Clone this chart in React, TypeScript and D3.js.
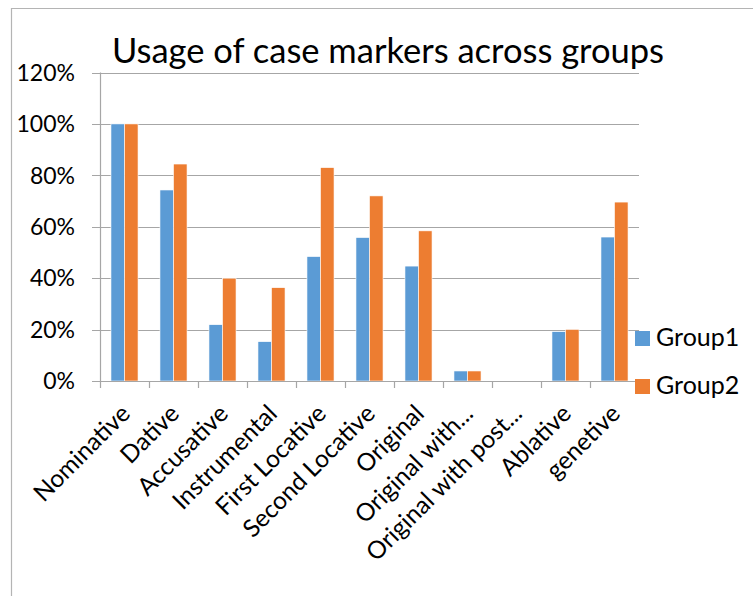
import React from "react";
import * as d3 from "d3";

const categories = [
  "Nominative",
  "Dative",
  "Accusative",
  "Instrumental",
  "First Locative",
  "Second Locative",
  "Original",
  "Original with...",
  "Original with post...",
  "Ablative",
  "genetive",
];
const group1 = [1.0, 0.743, 0.219, 0.153, 0.484, 0.558, 0.447, 0.039, 0, 0.192, 0.56];
const group2 = [1.0, 0.844, 0.4, 0.363, 0.83, 0.72, 0.584, 0.039, 0, 0.201, 0.696];
const seriesNames = ["Group1", "Group2"];
const yTicks = [0, 0.2, 0.4, 0.6, 0.8, 1.0, 1.2];

const COLORS = ["#5B9BD5", "#ED7D31"];
const FONT = "Lato, 'Open Sans', sans-serif";

export default function App() {
  const W = 753;
  const H = 596;
  const left = 100;
  const right = 639;
  const top = 72.5;
  const bottom = 381;

  const x = d3.scaleBand<string>().domain(categories).range([left, right]);
  const inner = d3
    .scaleBand<string>()
    .domain(seriesNames)
    .range([0, x.bandwidth()])
    .paddingInner(0)
    .paddingOuter(0.81);
  const y = d3.scaleLinear().domain([0, 1.2]).range([bottom, top]);
  const series = [group1, group2];
  const fmt = d3.format(".0%");

  return (
    <svg
      width={W}
      height={H}
      style={{ position: "absolute", left: 0, top: 0, background: "#fff" }}
      fontFamily={FONT}
    >
      <rect x={0} y={0} width={W} height={H} fill="#fff" />
      {/* outer frame */}
      <line x1={11} x2={W} y1={8.5} y2={8.5} stroke="#b4b4b4" strokeWidth={1.2} />
      <line x1={11.5} x2={11.5} y1={8} y2={H} stroke="#b4b4b4" strokeWidth={1.2} />

      {/* title */}
      <text x={388} y={63} textAnchor="middle" fontSize={34.5} fill="#000">
        Usage of case markers across groups
      </text>

      {/* gridlines + y ticks */}
      {yTicks.map((t) => (
        <g key={t}>
          <line
            x1={left - 8}
            x2={right}
            y1={Math.round(y(t)) + 0.5}
            y2={Math.round(y(t)) + 0.5}
            stroke="#a6a6a6"
            strokeWidth={1.2}
          />
          <text
            x={75}
            y={y(t)}
            dy="0.36em"
            textAnchor="end"
            fontSize={23}
            fill="#000"
          >
            {fmt(t)}
          </text>
        </g>
      ))}
      {/* y axis */}
      <line x1={left + 0.5} x2={left + 0.5} y1={top} y2={bottom} stroke="#a6a6a6" strokeWidth={1.2} />

      {/* bars */}
      {categories.map((c, i) => (
        <g key={c}>
          {series.map((s, k) => (
            <rect
              key={k}
              x={(x(c) as number) + (inner(seriesNames[k]) as number)}
              y={y(s[i])}
              width={inner.bandwidth()}
              height={bottom - y(s[i])}
              fill={COLORS[k]}
              stroke="#fff"
              strokeWidth={0.6}
            />
          ))}
        </g>
      ))}

      {/* x axis baseline and ticks */}
      <line x1={left - 8} x2={right} y1={bottom + 0.5} y2={bottom + 0.5} stroke="#a6a6a6" strokeWidth={1.2} />
      {[...categories.map((c) => x(c) as number), right].map((tx, i) => (
        <line
          key={i}
          x1={tx + 0.5}
          x2={tx + 0.5}
          y1={bottom}
          y2={bottom + 7}
          stroke="#a6a6a6"
          strokeWidth={1.2}
        />
      ))}

      {/* x labels */}
      {categories.map((c) => {
        const cx = (x(c) as number) + x.bandwidth() / 2;
        return (
          <text
            key={c}
            transform={`translate(${cx + 1},${bottom + 28}) rotate(-45)`}
            textAnchor="end"
            dy="0.35em"
            fontSize={24.5}
            fill="#000"
          >
            {c}
          </text>
        );
      })}

      {/* legend */}
      {seriesNames.map((n, k) => (
        <g key={n} transform={`translate(635,${331 + k * 48})`}>
          <rect x={0} y={0} width={15} height={15} fill={COLORS[k]} />
          <text x={21} y={15} fontSize={25} fill="#000">
            {n}
          </text>
        </g>
      ))}
    </svg>
  );
}
